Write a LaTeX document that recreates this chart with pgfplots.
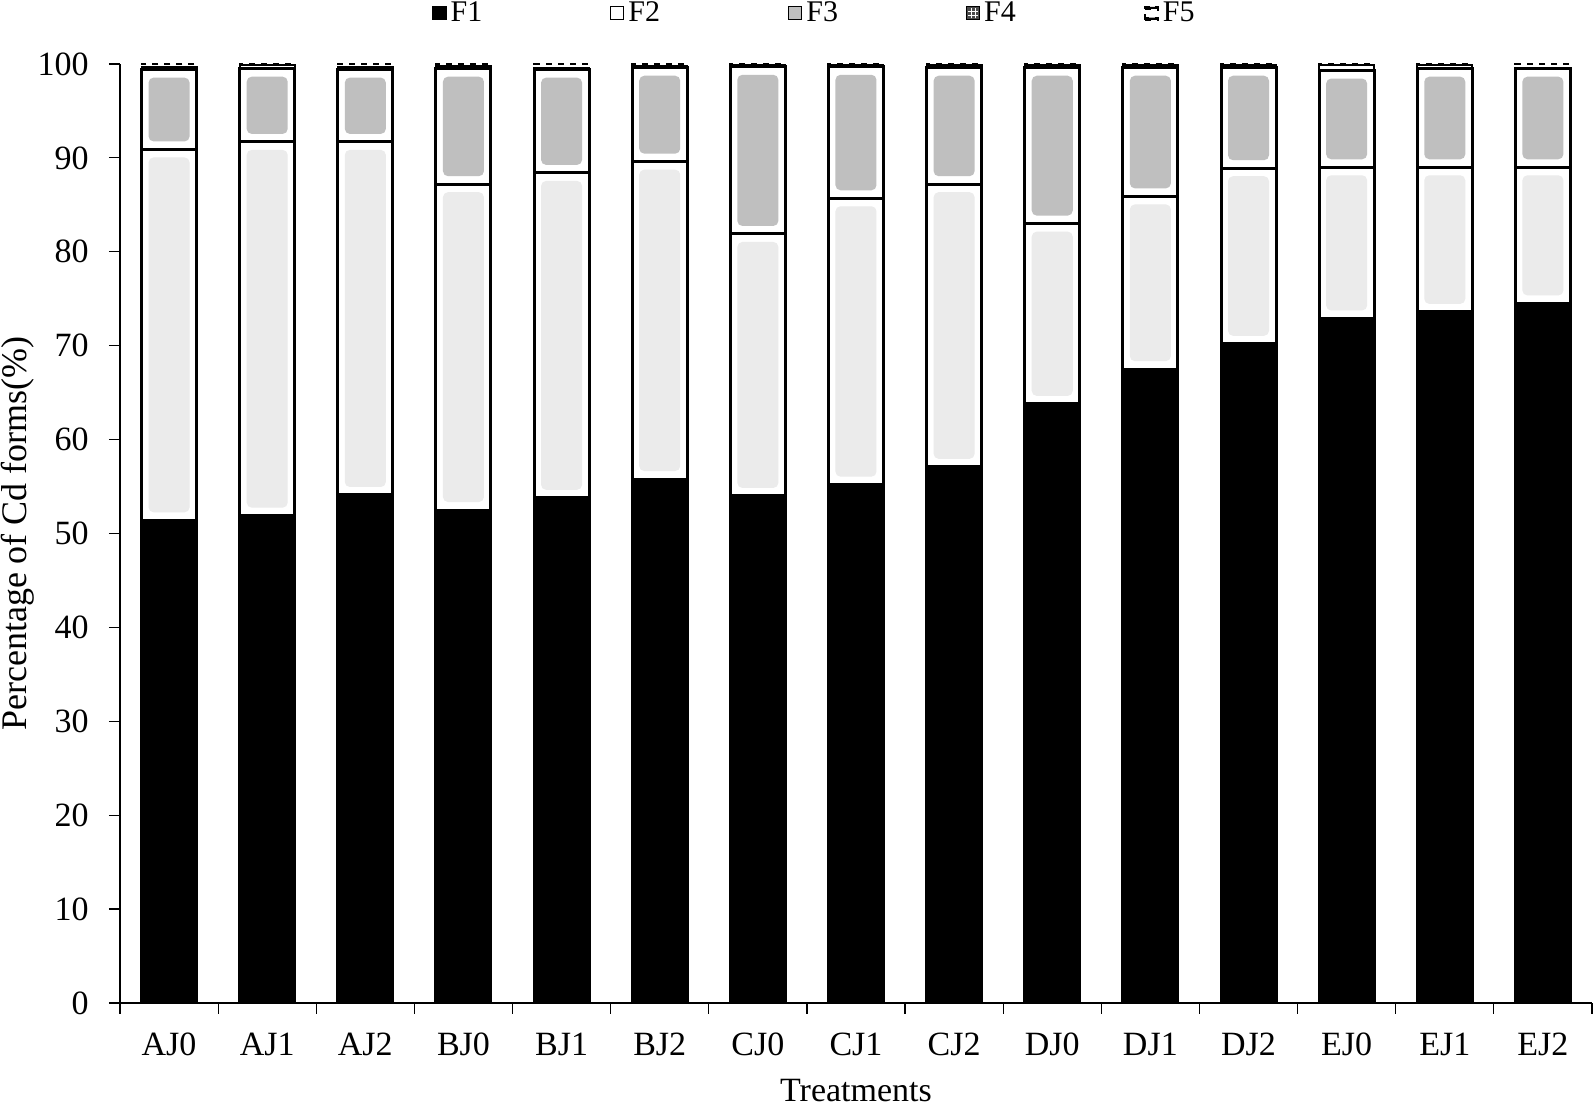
\documentclass[border=0pt]{standalone}
\usepackage{pgfplots}
\pgfplotsset{compat=1.18}
\usepackage{pgfplotstable}
\usepackage{fontspec}
\setmainfont{Liberation Serif}

\definecolor{ftwo}{gray}{0.92}
\definecolor{fthree}{gray}{0.75}

% percentage of Cd forms
\pgfplotstableread{
X  Name F1   F2   F3   F4  F5
0  AJ0  51.4 39.5 8.5  0.3 0.3
1  AJ1  51.9 39.8 7.8  0.4 0.1
2  AJ2  54.1 37.6 7.7  0.3 0.3
3  BJ0  52.5 34.7 12.3 0.3 0.2
4  BJ1  53.8 34.6 11.0 0.2 0.4
5  BJ2  55.8 33.8 10.0 0.2 0.2
6  CJ0  54.0 27.9 17.8 0.2 0.1
7  CJ1  55.2 30.5 14.0 0.2 0.1
8  CJ2  57.1 30.1 12.4 0.3 0.1
9  DJ0  63.8 19.2 16.6 0.3 0.1
10 DJ1  67.5 18.4 13.7 0.3 0.1
11 DJ2  70.2 18.7 10.7 0.3 0.1
12 EJ0  72.9 16.1 10.3 0.6 0.1
13 EJ1  73.6 15.4 10.5 0.4 0.1
14 EJ2  74.5 14.5 10.5 0.1 0.4
}\cdforms

% grey inner panel of a segment (node sits in the middle of the segment)
\pgfplotsset{
  inset/.style={
    nodes near coords={},
    visualization depends on={\thisrow{#1}\as\segh},
    every node near coord/.style={draw=none, fill=#1col, inner sep=0pt,
      anchor=center, minimum width=20.5pt,
      minimum height=\segh*4.695pt-8pt, rounded corners=2.5pt},
  },
}
\colorlet{F2col}{ftwo}
\colorlet{F3col}{fthree}

\begin{document}
\begin{tikzpicture}
\begin{axis}[
  at={(0,0)}, anchor=south west,
  x=49.065pt, y=4.695pt,
  xmin=-0.5, xmax=14.5, ymin=0, ymax=100,
  clip=false,
  axis x line*=bottom, axis y line*=left,
  axis line style={line width=0.6pt},
  ybar stacked, bar width=27.5pt,
  xtick={0,...,14},
  xticklabels from table={\cdforms}{Name},
  major x tick style={draw=none},
  minor xtick={-0.5,0.5,...,14.5},
  ytick={0,10,...,100},
  tick align=outside,
  major tick length=5.5pt, minor tick length=5.5pt,
  tick style={black, line width=0.6pt},
  font=\fontsize{17}{20}\selectfont,
  /pgf/number format/assume math mode=true,
  xticklabel style={anchor=north, inner sep=0pt, yshift=-9.4pt},
  yticklabel style={anchor=east, inner sep=0pt, xshift=-10pt},
  xlabel={Treatments},
  ylabel={Percentage of Cd forms(\%)},
  every axis x label/.style={at={(axis description cs:0.5,0)}, anchor=north, inner sep=0pt, yshift=-38pt},
  every axis y label/.style={at={(axis description cs:0,0.5)}, xshift=-51pt, rotate=90, anchor=center, inner sep=0pt,
    font=\fontsize{18}{21}\selectfont},
  legend columns=5,
  legend style={at={(axis description cs:0.4725,1.054)}, anchor=center, draw=none, fill=none,
    inner sep=0pt, font=\fontsize{15}{18}\selectfont,
    /tikz/every even column/.append style={column sep=62pt}},
]
\addplot[fill=black, draw=black, line width=1.5pt,
  legend image code/.code={\draw[black, fill=black, line width=0.6pt] (0pt,-3.25pt) rectangle (6.5pt,3.25pt);}]
  table[x=X, y=F1]{\cdforms};
\addlegendentry{F1}
\addplot[fill=white, draw=black, line width=1.5pt, inset=F2,
  legend image code/.code={\draw[black, fill=white, line width=0.6pt] (0pt,-3.25pt) rectangle (6.5pt,3.25pt);}]
  table[x=X, y=F2]{\cdforms};
\addlegendentry{F2}
\addplot[fill=white, draw=black, line width=1.5pt, inset=F3,
  legend image code/.code={\draw[black, fill=fthree, line width=0.6pt] (0pt,-3.25pt) rectangle (6.5pt,3.25pt);}]
  table[x=X, y=F3]{\cdforms};
\addlegendentry{F3}
\addplot[fill=white, draw=black, line width=1pt,
  legend image code/.code={\draw[black, fill=black!70, line width=0.6pt] (0pt,-3.25pt) rectangle (6.5pt,3.25pt);
    \draw[white, line width=0.5pt] (2.2pt,-2.5pt) -- (2.2pt,2.5pt) (4.3pt,-2.5pt) -- (4.3pt,2.5pt) (0.8pt,-1pt) -- (5.7pt,-1pt) (0.8pt,1pt) -- (5.7pt,1pt);}]
  table[x=X, y=F4]{\cdforms};
\addlegendentry{F4}
\addplot[fill=white, draw=black, line width=1pt, dashed,
  legend image code/.code={\draw[black, fill=white, line width=0.6pt] (0pt,-3.25pt) rectangle (6.5pt,3.25pt);
    \fill[black] (0pt,2.2pt) rectangle (6.5pt,3.25pt) (0pt,-3.25pt) rectangle (6.5pt,-2.2pt);}]
  table[x=X, y=F5]{\cdforms};
\addlegendentry{F5}
\end{axis}
\pgfresetboundingbox
\useasboundingbox (-60pt,-51.5pt) rectangle (736.5pt,501.5pt);
\end{tikzpicture}
\end{document}
